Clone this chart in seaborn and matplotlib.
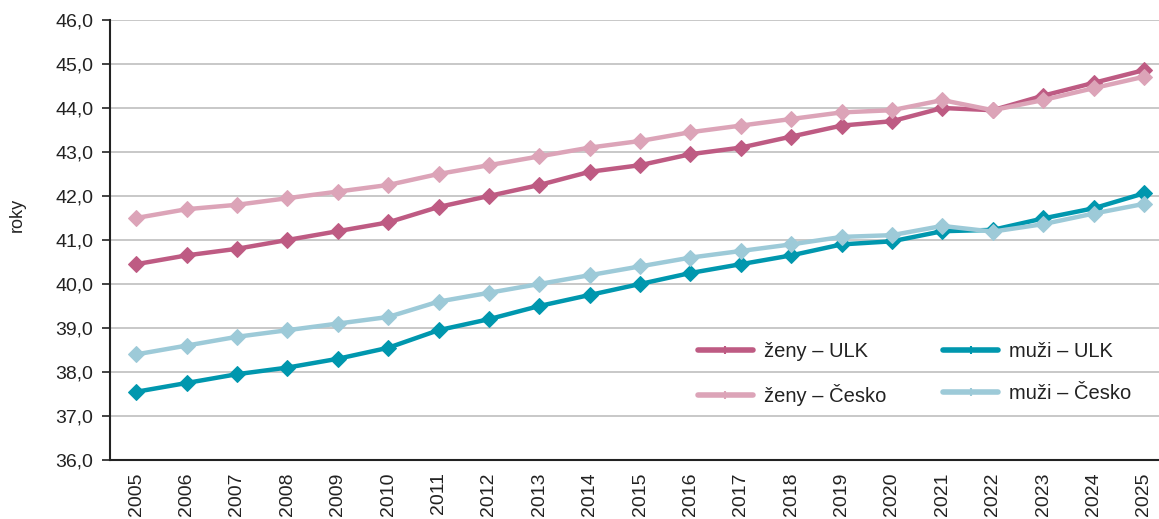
import matplotlib
matplotlib.use("Agg")
import matplotlib.pyplot as plt
import seaborn as sns
import pandas as pd

years = list(range(2005, 2026))
zeny_ulk = [40.45, 40.65, 40.8, 41.0, 41.2, 41.4, 41.75, 42.0, 42.25, 42.55, 42.7,
            42.95, 43.1, 43.35, 43.6, 43.7, 44.0, 43.95, 44.28, 44.57, 44.86]
zeny_cz = [41.5, 41.7, 41.8, 41.95, 42.1, 42.25, 42.5, 42.7, 42.9, 43.1, 43.25,
           43.45, 43.6, 43.75, 43.9, 43.95, 44.18, 43.95, 44.18, 44.45, 44.71]
muzi_ulk = [37.55, 37.75, 37.95, 38.1, 38.3, 38.55, 38.95, 39.2, 39.5, 39.75, 40.0,
            40.25, 40.45, 40.65, 40.9, 40.97, 41.2, 41.23, 41.49, 41.72, 42.06]
muzi_cz = [38.4, 38.6, 38.8, 38.95, 39.1, 39.25, 39.6, 39.8, 40.0, 40.2, 40.4,
           40.6, 40.75, 40.9, 41.07, 41.11, 41.32, 41.19, 41.36, 41.6, 41.82]
labels = ["ženy – ULK", "muži – ULK", "ženy – Česko", "muži – Česko"]
colors = ["#BE5B83", "#0097AE", "#DCA4B8", "#9DCAD8"]

sns.set_theme(style="white")
plt.rcParams["font.family"] = ["Liberation Sans", "DejaVu Sans"]

fig = plt.figure(figsize=(11.59, 5.19), dpi=100)
ax = fig.add_axes([110 / 1159, 1 - 460 / 519, 1 - 110 / 1159, 440 / 519])

series = [zeny_ulk, muzi_ulk, zeny_cz, muzi_cz]
handles = {}
for vals, lab, col in zip(series, labels, colors):
    df = pd.DataFrame({"rok": years, "v": vals})
    sns.lineplot(data=df, x="rok", y="v", ax=ax, color=col, lw=3.2,
                 marker="D", markersize=8.5, markeredgecolor=col, label=lab,
                 legend=False)
    handles[lab] = plt.Line2D([], [], color=col, lw=4, marker="|",
                              markersize=6, markeredgewidth=1.5)

ax.set_xlim(2004.48, 2025.3)
ax.set_ylim(36, 46)
ax.set_yticks([36 + i for i in range(11)])
ax.set_yticklabels([f"{36 + i},0" for i in range(11)])
ax.set_xticks(years)
ax.set_xticklabels([str(y) for y in years], rotation=90)
ax.tick_params(axis="y", which="both", left=True, length=6, width=1.2,
               color="#222222", labelsize=14, labelcolor="#222222", pad=6)
ax.tick_params(axis="x", bottom=False, labelsize=14, labelcolor="#222222", pad=3)
ax.grid(axis="y", color="#C8C8C8", lw=1.4)
ax.set_axisbelow(True)
for s in ["top", "right"]:
    ax.spines[s].set_visible(False)
for s in ["left", "bottom"]:
    ax.spines[s].set_color("#222222")
    ax.spines[s].set_linewidth(1.5)
ax.set_xlabel("")
ax.set_ylabel("roky", fontsize=13, color="#222222")
ax.yaxis.set_label_coords(-0.08, 0.557)

order = ["ženy – ULK", "ženy – Česko", "muži – ULK", "muži – Česko"]
leg = ax.legend([handles[o] for o in order], order, ncol=2, frameon=False,
                loc="upper left", bbox_to_anchor=(0.553, 0.287),
                borderaxespad=0, fontsize=14.5, handlelength=2.7,
                handletextpad=0.55, labelspacing=1.15, columnspacing=2.85)
for t in leg.get_texts():
    t.set_color("#222222")

fig.savefig("out.png", dpi=100)
